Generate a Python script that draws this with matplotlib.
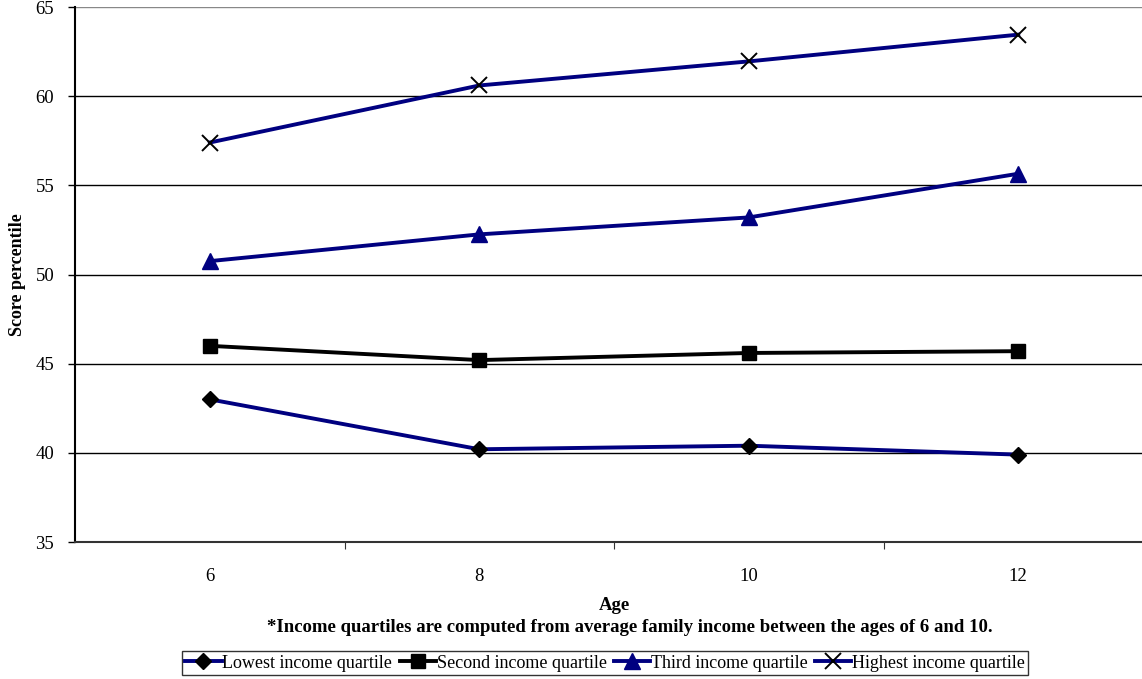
import matplotlib
matplotlib.use("Agg")
import matplotlib.pyplot as plt
from matplotlib.lines import Line2D

ages = ["6", "8", "10", "12"]
lowest = [43.0, 40.2, 40.4, 39.9]
second = [46.0, 45.2, 45.6, 45.7]
third = [50.75, 52.25, 53.2, 55.65]
highest = [57.4, 60.6, 61.95, 63.45]
series_names = ["Lowest income quartile", "Second income quartile",
                "Third income quartile", "Highest income quartile"]
y_ticks = [35, 40, 45, 50, 55, 60, 65]

plt.rcParams['font.family'] = ['Liberation Serif', 'DejaVu Serif']

fig = plt.figure(figsize=(11.42, 6.79), dpi=100)
ax = fig.add_axes([75/1142, 1-542/679, 1078/1142, 535/679])

navy = '#000080'
x = list(range(len(ages)))
lw = 2.8
styles = [
    dict(color=navy, marker='D', ms=8.5, mfc='black', mec='black'),
    dict(color='black', marker='s', ms=10, mfc='black', mec='black'),
    dict(color=navy, marker='^', ms=11, mfc=navy, mec=navy),
    dict(color=navy, marker='x', ms=11, mew=1.4, mfc='black', mec='black'),
]
for vals, st in zip([lowest, second, third, highest], styles):
    ax.plot(x, vals, lw=lw, zorder=3, **st)

ax.set_ylim(35, 65)
ax.set_yticks(y_ticks)
ax.set_xlim(-0.5, len(ages) - 0.5)
ax.set_xticks([i - 0.5 for i in range(1, len(ages))], minor=False)
ax.set_xticklabels([])
ax.set_xticks(x, minor=True)
ax.set_xticklabels(ages, minor=True)
ax.tick_params(axis='x', which='minor', length=0, pad=19, labelsize=13.5)
ax.tick_params(axis='x', which='major', length=5, direction='out', color='#333333')
ax.tick_params(axis='y', length=5, direction='out', width=1, labelsize=13.5, pad=10)

for yv in y_ticks[1:]:
    ax.axhline(yv, color='black' if yv < 65 else '#888888', lw=1.0, zorder=1)

for s in ['top', 'right']:
    ax.spines[s].set_visible(False)
ax.spines['left'].set_linewidth(1.5)
ax.spines['bottom'].set_linewidth(1.5)
ax.spines['bottom'].set_color('#333333')

ax.set_ylabel("Score percentile", fontsize=13, fontweight='bold')
ax.yaxis.set_label_coords((26 - 75) / 1078, 0.5)

fig.text(614/1142, 1-605/679, "Age", ha='center', va='center', fontsize=13.5, fontweight='bold')
fig.text(630/1142, 1-627/679,
         "*Income quartiles are computed from average family income between the ages of 6 and 10.",
         ha='center', va='center', fontsize=13.5, fontweight='bold')

handles = [Line2D([], [], lw=lw, **st) for st in styles]
leg = fig.legend(handles, series_names, loc='center', bbox_to_anchor=(605/1142, 1-663/679),
                 ncol=4, frameon=True, fancybox=False, edgecolor='black', fontsize=13,
                 handlelength=2.0, handletextpad=0.05, columnspacing=0.4,
                 borderpad=0.2, borderaxespad=0)
leg.get_frame().set_linewidth(1.0)

fig.savefig("out.png", dpi=100)
